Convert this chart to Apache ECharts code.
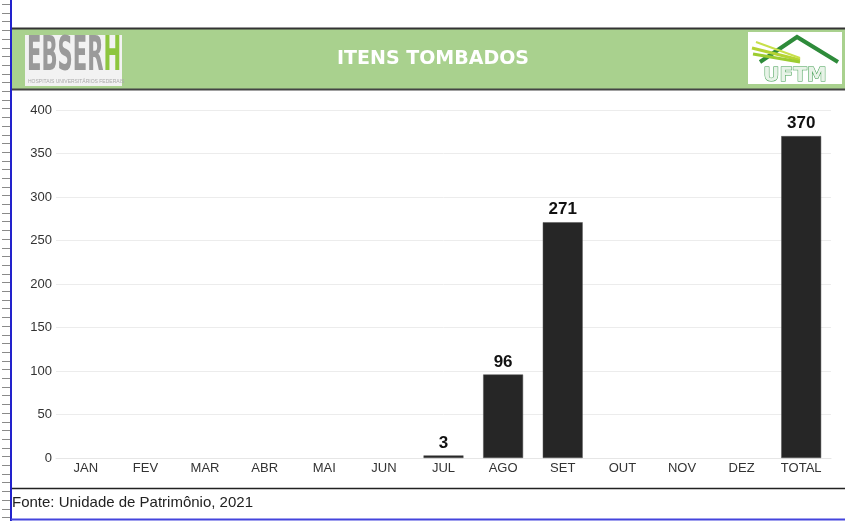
<!DOCTYPE html>
<html><head><meta charset="utf-8">
<script src="https://cdn.jsdelivr.net/npm/echarts@6/dist/echarts.min.js"></script>
<style>html,body{margin:0;padding:0;background:#fff}#c{width:845px;height:521px}</style>
</head><body><div id="c"></div>
<script>
const categories = ['JAN','FEV','MAR','ABR','MAI','JUN','JUL','AGO','SET','OUT','NOV','DEZ','TOTAL'];
const values = [null,null,null,null,null,null,3,96,271,null,null,null,370];
const yTicks = [0,50,100,150,200,250,300,350,400];
const titleText = 'ITENS TOMBADOS';
const sourceText = 'Fonte: Unidade de Patrimônio, 2021';

const chart = echarts.init(document.getElementById('c'), null, {renderer:'canvas'});
const font = '"Liberation Sans", Arial, sans-serif';

const graphics = [];
// left ruler ticks
for (let y = 4; y < 521; y += 8.7) {
  graphics.push({type:'line', shape:{x1:2,y1:Math.round(y)+0.5,x2:10,y2:Math.round(y)+0.5}, style:{stroke:'#8a8a8a',lineWidth:1}, silent:true});
}
graphics.push(
  {type:'rect', shape:{x:11,y:28,width:834,height:61}, style:{fill:'#a9d18e',stroke:null}},
  {type:'line', shape:{x1:11,y1:28.5,x2:845,y2:28.5}, style:{stroke:'#333',lineWidth:2}},
  {type:'line', shape:{x1:11,y1:89.5,x2:845,y2:89.5}, style:{stroke:'#444',lineWidth:2}},
  {type:'line', shape:{x1:11,y1:488.5,x2:845,y2:488.5}, style:{stroke:'#222',lineWidth:1.5}},
  {type:'line', shape:{x1:11,y1:0,x2:11,y2:521}, style:{stroke:'#2222cc',lineWidth:2}},
  {type:'line', shape:{x1:11,y1:519.5,x2:845,y2:519.5}, style:{stroke:'#4444dd',lineWidth:2}},
  // EBSERH logo
  {type:'rect', shape:{x:25,y:35,width:97,height:51}, style:{fill:'#f2f2f2'}},
  {type:'group', x:27, y:34, scaleX:0.44, children:[
    {type:'text', style:{x:0,y:0,text:'EBSER',fill:'#9a9a9a',font:'bold 48px "DejaVu Sans", sans-serif'}},
    {type:'text', style:{x:174,y:0,text:'H',fill:'#8dc63f',font:'bold 48px "DejaVu Sans", sans-serif'}}
  ]},
  {type:'text', style:{x:28,y:79,text:'HOSPITAIS UNIVERSITÁRIOS FEDERAIS',fill:'#aaaaaa',font:'5px sans-serif'}},
  // UFTM logo
  {type:'rect', shape:{x:748,y:32,width:94,height:52}, style:{fill:'#ffffff'}},
  {type:'polyline', shape:{points:[[760,62],[797,37],[838,62]]}, style:{stroke:'#2e8b3a',lineWidth:4,fill:null}},
  {type:'line', shape:{x1:752,y1:48,x2:800,y2:60}, style:{stroke:'#b5d334',lineWidth:3}},
  {type:'line', shape:{x1:753,y1:54,x2:800,y2:62}, style:{stroke:'#9ccc30',lineWidth:3}},
  {type:'line', shape:{x1:756,y1:42,x2:800,y2:58}, style:{stroke:'#c8e04a',lineWidth:2}},
  {type:'text', style:{x:795,y:66,text:'UFTM',fill:'#e8f3e8',stroke:'#3a9a4a',lineWidth:1,font:'bold 20px "DejaVu Sans", sans-serif',align:'center'}},
  {type:'text', style:{x:433,y:59,text:titleText,fill:'#ffffff',font:'bold 19px "DejaVu Sans", sans-serif',align:'center',verticalAlign:'middle'}},
  {type:'text', style:{x:12,y:503,text:sourceText,fill:'#222',font:'15px '+font,verticalAlign:'middle'}}
);

chart.setOption({
  animation:false,
  backgroundColor:'#fff',
  grid:{left:56,right:14,top:110,bottom:63},
  xAxis:{type:'category',data:categories,
    axisLine:{show:true,lineStyle:{color:'#e6e6e6',width:1}},
    axisTick:{show:false},
    axisLabel:{color:'#333',fontSize:13,fontFamily:font,margin:4}},
  yAxis:{type:'value',min:0,max:400,interval:50,
    axisLine:{show:false},axisTick:{show:false},
    splitLine:{lineStyle:{color:'#ececec',width:1}},
    axisLabel:{color:'#333',fontSize:13,fontFamily:font,margin:4,
      formatter:v=>yTicks.includes(v)?String(v):''}},
  series:[{type:'bar',data:values,barWidth:'67%',
    itemStyle:{color:'#262626',borderColor:'#555',borderWidth:0.5},
    label:{show:true,position:'top',color:'#111',fontWeight:'bold',fontSize:17,fontFamily:font,distance:4}}],
  graphic:graphics
});
</script></body></html>
